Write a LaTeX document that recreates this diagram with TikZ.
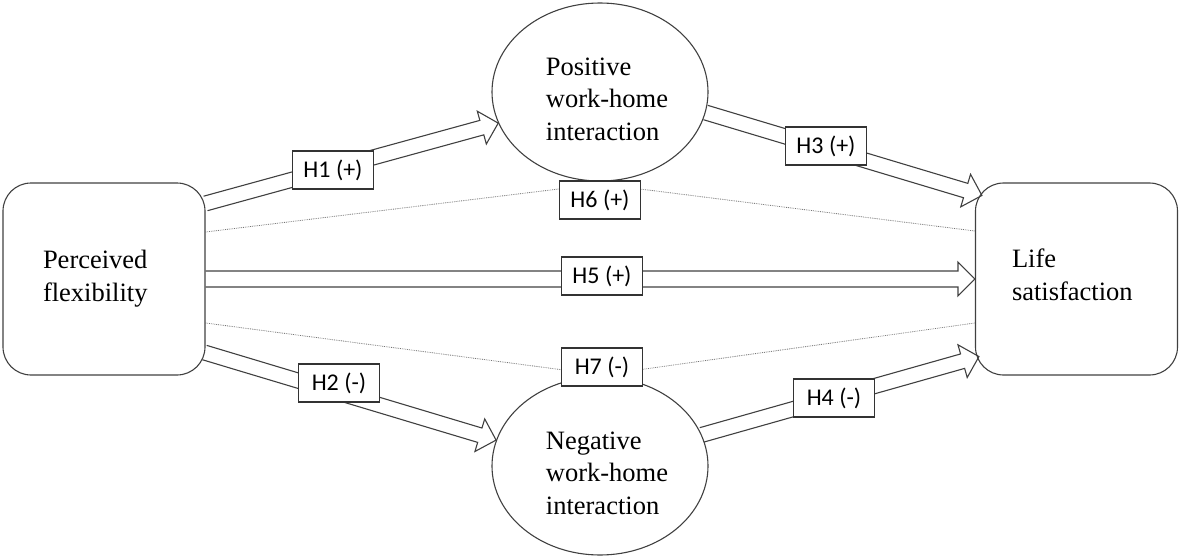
\documentclass[tikz,border=0pt]{standalone}
\usepackage{fontspec}
\setmainfont{Liberation Serif}
\newfontfamily\hypfont{Carlito}
\usetikzlibrary{calc,shapes.geometric,backgrounds}
\tikzset{
  box/.style={draw=black!75, line width=1.1pt, rounded corners=28pt,
    minimum width=202pt, minimum height=192pt, align=left, inner sep=0pt,
    font=\fontsize{26.5}{33}\selectfont},
  oval/.style={ellipse, draw=black!75, line width=1.1pt,
    minimum width=216pt, minimum height=178pt, align=left, inner sep=0pt,
    font=\fontsize{26.5}{32.5}\selectfont},
  hyp/.style={draw=black!80, fill=white, line width=1.1pt,
    minimum width=81pt, minimum height=38pt, inner sep=0pt,
    font=\hypfont\fontsize{24}{28}\selectfont},
  barrow/.style={draw=black!75, line width=1.1pt, line join=miter},
  weak/.style={draw=black!55, densely dotted, line width=0.8pt},
}
\newcommand\blockarrow[3][7.5pt]{%
  \draw[barrow] ($(#2)!#1!90:(#3)$) -- ($(#3)!17pt!(#2)!#1!90:(#3)$)
    -- ($(#3)!17pt!(#2)!17pt!90:(#3)$) -- (#3)
    -- ($(#3)!17pt!(#2)!17pt!-90:(#3)$) -- ($(#3)!17pt!(#2)!#1!-90:(#3)$)
    -- ($(#2)!#1!-90:(#3)$);}
\newcommand\ind{\hspace*{14pt}}
\begin{document}
\begin{tikzpicture}[x=1pt,y=-1pt]
\useasboundingbox (0,0) rectangle (1179,557);
% main nodes
\node[box, text width=122pt] (pf) at (104,279) {Perceived\\flexibility};
\node[box, text width=129pt] (ls) at (1076.5,279) {Life\\satisfaction\rule[-8pt]{0pt}{8pt}};
\node[oval] (pwh) at (600,92) {\ind\rule{0pt}{32pt}Positive\\\ind work-home\\\ind interaction};
\node[oval] (nwh) at (600,466) {\ind\rule{0pt}{32pt}Negative\\\ind work-home\\\ind interaction};
% hypothesis labels
\node[hyp] (h1) at (333,170) {H1 (+)};
\node[hyp] (h2) at (339,383) {H2 (-)};
\node[hyp] (h3) at (826,146) {H3 (+)};
\node[hyp] (h4) at (834,398) {H4 (-)};
\node[hyp] (h5) at (602,276) {H5 (+)};
\node[hyp] (h6) at (600,200) {H6 (+)};
\node[hyp] (h7) at (602,367) {H7 (-)};
% connector end points
\coordinate (a1s) at ($(pf.north east)+(0,21)$);
\coordinate (a1e) at (pwh.197);
\coordinate (a2s) at ($(pf.south east)+(-1,-23)$);
\coordinate (a2e) at (nwh.166);
\coordinate (a3s) at (pwh.-11.5);
\coordinate (a3e) at ($(ls.north west)+(7,13)$);
\coordinate (a4s) at (nwh.17.6);
\coordinate (a4e) at ($(ls.south west)+(4,-19)$);
\begin{scope}[on background layer]
  \blockarrow{a1s}{a1e}
  \blockarrow{a2s}{a2e}
  \blockarrow{a3s}{a3e}
  \blockarrow{a4s}{a4e}
  \blockarrow[8pt]{pf.east}{ls.west}
  \draw[weak] ($(pf.east)+(0,-47)$) -- ($(h6.center)+(0,-16)$) -- ($(ls.west)+(0,-48)$);
  \draw[weak] ($(pf.east)+(0,44)$) -- ($(h7.center)+(0,8)$) -- ($(ls.west)+(0,44)$);
\end{scope}
\end{tikzpicture}
\end{document}
